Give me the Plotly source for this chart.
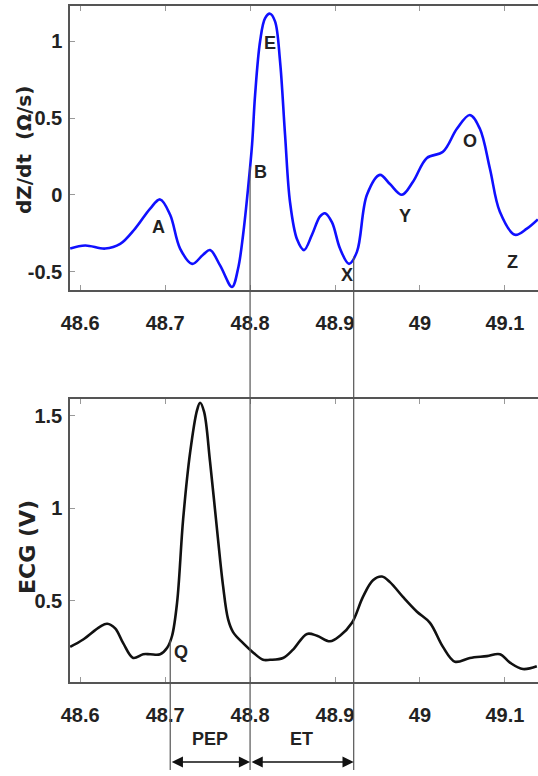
import numpy as np
import plotly.graph_objects as go

# ---- data ----
t_dz = [48.5882, 48.6059, 48.6294, 48.6471, 48.6647, 48.6824, 48.6941, 48.7059, 48.7176, 48.7318,
        48.7447, 48.7529, 48.7647, 48.7788, 48.7859, 48.7918, 48.7976, 48.8024, 48.8059, 48.8118,
        48.8176, 48.8235, 48.8294, 48.8353, 48.8412, 48.8471, 48.8553, 48.8635, 48.8729, 48.8824,
        48.8882, 48.8965, 48.9059, 48.9165, 48.9259, 48.9376, 48.9529, 48.9647, 48.9788, 48.9918,
        49.0082, 49.0271, 49.0435, 49.0588, 49.0706, 49.0824, 49.0941, 49.1118, 49.1259, 49.1388]
dz = [-0.35, -0.33, -0.35, -0.32, -0.22, -0.09, -0.03, -0.13, -0.35, -0.45,
      -0.39, -0.36, -0.46, -0.60, -0.48, -0.26, 0.04, 0.33, 0.65, 1.00,
      1.15, 1.18, 1.13, 0.87, 0.39, -0.05, -0.29, -0.36, -0.26, -0.14,
      -0.12, -0.18, -0.35, -0.45, -0.37, 0.00, 0.13, 0.07, 0.00, 0.085,
      0.24, 0.28, 0.43, 0.52, 0.43, 0.17, -0.11, -0.26, -0.22, -0.16]

t_ecg = [48.5882, 48.6035, 48.6235, 48.6318, 48.6412, 48.6506, 48.6624, 48.6741, 48.6824, 48.6941,
         48.7024, 48.7082, 48.7141, 48.7212, 48.7294, 48.7376, 48.7412, 48.7459, 48.7529, 48.7612,
         48.7682, 48.7741, 48.7800, 48.7918, 48.8035, 48.8153, 48.8235, 48.8388, 48.8506, 48.8671,
         48.8788, 48.8941, 48.9059, 48.9200, 48.9329, 48.9447, 48.9553, 48.9647, 48.9800, 48.9965,
         49.0118, 49.0271, 49.0412, 49.0588, 49.0788, 49.0941, 49.1059, 49.1212, 49.1376]
ecg = [0.25, 0.29, 0.36, 0.375, 0.35, 0.27, 0.19, 0.21, 0.21, 0.21,
       0.245, 0.31, 0.49, 0.94, 1.30, 1.53, 1.57, 1.52, 1.25, 0.88,
       0.58, 0.40, 0.33, 0.27, 0.22, 0.18, 0.18, 0.19, 0.235, 0.32,
       0.31, 0.28, 0.31, 0.38, 0.52, 0.61, 0.63, 0.60, 0.52, 0.44,
       0.38, 0.25, 0.17, 0.19, 0.20, 0.21, 0.165, 0.13, 0.145]

x_ticks = [48.6, 48.7, 48.8, 48.9, 49.0, 49.1]
x_ticktext = ["48.6", "48.7", "48.8", "48.9", "49", "49.1"]
dz_ticks = [-0.5, 0, 0.5, 1]
dz_ticktext = ["-0.5", "0", "0.5", "1"]
ecg_ticks = [0.5, 1, 1.5]
ecg_ticktext = ["0.5", "1", "1.5"]

dz_labels = ["A", "B", "E", "X", "Y", "O", "Z"]
dz_label_t = [48.692, 48.812, 48.8235, 48.914, 48.982, 49.059, 49.109]
dz_label_v = [-0.21, 0.15, 0.99, -0.52, -0.14, 0.35, -0.44]
ecg_labels = ["Q"]
ecg_label_t = [48.719]
ecg_label_v = [0.22]

t_Q, t_B, t_X = 48.706, 48.800, 48.922
interval_names = ["PEP", "ET"]

# ---- layout constants ----
W, H = 538, 776
L = 70
x_range = [48.588, 49.139]
dz_range = [-0.62, 1.23]
ecg_range = [0.06, 1.59]
dz_dom = [1 - 290 / H, 1 - 6 / H]
ecg_dom = [1 - 682 / H, 1 - 399 / H]

FONT = "Liberation Sans, Arial, sans-serif"
FRAME = "#555555"

fig = go.Figure()
fig.add_trace(go.Scatter(x=t_dz, y=dz, mode="lines", line=dict(color="#1010ff", width=2.6, shape="spline"),
                         xaxis="x", yaxis="y", showlegend=False))
fig.add_trace(go.Scatter(x=t_ecg, y=ecg, mode="lines", line=dict(color="#111111", width=2.6, shape="spline"),
                         xaxis="x2", yaxis="y2", showlegend=False))

def to_paper(v, rng, dom):
    return dom[0] + (v - rng[0]) / (rng[1] - rng[0]) * (dom[1] - dom[0])

y_bottom = 1 - 770 / H
for tx, val, rng, dom in [
    (t_B, np.interp(t_B, t_dz, dz), dz_range, dz_dom),
    (t_X, np.interp(t_X, t_dz, dz), dz_range, dz_dom),
    (t_Q, np.interp(t_Q, t_ecg, ecg), ecg_range, ecg_dom),
]:
    fig.add_shape(type="line", xref="x", yref="paper", x0=tx, x1=tx,
                  y0=to_paper(val, rng, dom), y1=y_bottom,
                  line=dict(color=FRAME, width=1.2), layer="above")

axis_common = dict(showline=True, linecolor=FRAME, linewidth=1.5, ticks="inside", ticklen=5,
                   tickcolor="#999999", tickwidth=1.2, showgrid=False, zeroline=False, automargin=False,
                   tickfont=dict(family=FONT, size=20, color="#222222", weight="bold"))

fig.update_layout(
    width=W, height=H, margin=dict(l=L, r=0, t=0, b=0, autoexpand=False),
    paper_bgcolor="white", plot_bgcolor="white",
    xaxis=dict(domain=[0, 1], anchor="y", range=x_range, tickvals=x_ticks, ticktext=x_ticktext,
               mirror="ticks", ticklabelstandoff=14, **axis_common),
    yaxis=dict(domain=dz_dom, anchor="x", range=dz_range, tickvals=dz_ticks, ticktext=dz_ticktext,
               mirror=False, ticklabelstandoff=2, **axis_common),
    xaxis2=dict(domain=[0, 1], anchor="y2", range=x_range, tickvals=x_ticks, ticktext=x_ticktext,
                mirror="ticks", ticklabelstandoff=14, **axis_common),
    yaxis2=dict(domain=ecg_dom, anchor="x2", range=ecg_range, tickvals=ecg_ticks, ticktext=ecg_ticktext,
                mirror=False, ticklabelstandoff=2, **axis_common),
)

lab_font = dict(family=FONT, size=18, color="#222222", weight="bold")
for s, t, v in zip(dz_labels, dz_label_t, dz_label_v):
    fig.add_annotation(x=t, y=v, xref="x", yref="y", text=s, showarrow=False, font=lab_font)
for s, t, v in zip(ecg_labels, ecg_label_t, ecg_label_v):
    fig.add_annotation(x=t, y=v, xref="x2", yref="y2", text=s, showarrow=False, font=lab_font)

# axis titles
title_font = dict(family="DejaVu Sans, Verdana, sans-serif", size=20, color="#222222", weight="bold")
fig.add_annotation(x=(24 - L) / (W - L), y=1 - 150 / H, xref="paper", yref="paper", text="dZ/dt  (Ω/s)",
                   textangle=-90, showarrow=False, font=title_font, xanchor="center", yanchor="middle")
fig.add_annotation(x=(27 - L) / (W - L), y=1 - 547 / H, xref="paper", yref="paper", text="ECG (V)",
                   textangle=-90, showarrow=False, font=dict(title_font, size=22),
                   xanchor="center", yanchor="middle")

# interval arrows (double-headed) below the ECG panel
y_arrow = 1 - 762 / H
y_text = 1 - 751 / H
for (a, b), name in zip([(t_Q, t_B), (t_B, t_X)], interval_names):
    fig.add_annotation(x=b, y=y_arrow, ax=a, ay=0, xref="x2", yref="paper", axref="x2", ayref="pixel",
                       text="", showarrow=True, arrowhead=2, arrowside="end+start", arrowsize=1.6,
                       arrowwidth=1.4, arrowcolor="#111111", standoff=0, startstandoff=0)
    fig.add_annotation(x=(a + b) / 2, y=y_text, xref="x2", yref="paper", text=name, showarrow=False,
                       font=dict(family=FONT, size=18, color="#222222", weight="bold"))

fig.write_html("out.html", config={"displayModeBar": False},
               post_script="document.body.style.margin='0';document.body.style.padding='0';")
